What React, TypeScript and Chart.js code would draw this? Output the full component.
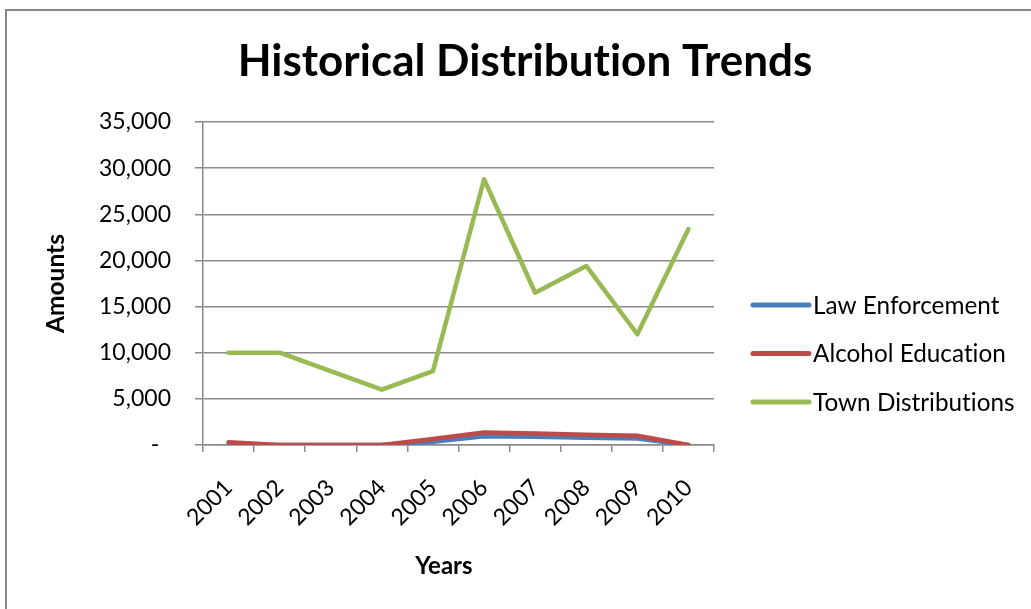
import { useEffect, useRef } from "react";
import { Chart, registerables } from "chart.js";

Chart.register(...registerables);

// Category axis
const years = ["2001", "2002", "2003", "2004", "2005", "2006", "2007", "2008", "2009", "2010"];

// Series values (amounts per year)
const lawEnforcement = [0, 0, 0, 0, 350, 950, 900, 780, 700, 0];
const alcoholEducation = [300, 0, 0, 0, 650, 1350, 1250, 1100, 1000, 0];
const townDistributions = [10000, 10000, 8000, 6000, 8000, 28800, 16500, 19400, 12000, 23400];

const seriesNames = ["Law Enforcement", "Alcohol Education", "Town Distributions"];
const seriesColors = ["#4A7EBB", "#BE4B48", "#98B954"];

// Value axis range
const yMin = 0;
const yMax = 35000;
const yStep = 5000;

const FONT = "Lato, 'Open Sans', sans-serif";
const AXIS_GRAY = "#8a8a8a";

// White background, outer frame, and plain (ligature-free) text rendering
const framePlugin = {
  id: "frame",
  afterLayout(chart: any) {
    // centre the title across the whole frame rather than the padded box
    const tb = chart.titleBlock;
    if (tb) {
      tb.left = 19;
      tb.right = chart.width;
      tb.width = tb.right - tb.left;
    }
  },
  beforeDraw(chart: any) {
    const { ctx, width, height } = chart;
    ctx.save();
    ctx.fillStyle = "#ffffff";
    ctx.fillRect(0, 0, width, height);
    ctx.strokeStyle = "#868686";
    ctx.lineWidth = 2;
    ctx.strokeRect(6, 10, width + 40, height + 40);
    ctx.restore();
    ctx.textRendering = "optimizeSpeed";
    ctx.letterSpacing = "0.01px";
  },
};

// Legend on the right: line swatch followed by the series name
const sideLegendPlugin = {
  id: "sideLegend",
  afterDraw(chart: any) {
    const { ctx, chartArea } = chart;
    const x0 = chartArea.right + 39;
    const y0 = chartArea.top + 183;
    const gap = 48.5;
    ctx.save();
    ctx.font = `24.3px ${FONT}`;
    ctx.textBaseline = "middle";
    ctx.textAlign = "left";
    chart.data.datasets.forEach((ds: any, i: number) => {
      const y = y0 + i * gap;
      ctx.strokeStyle = ds.borderColor;
      ctx.lineWidth = 5;
      ctx.lineCap = "round";
      ctx.beginPath();
      ctx.moveTo(x0, y);
      ctx.lineTo(x0 + 56, y);
      ctx.stroke();
      ctx.fillStyle = "#000";
      ctx.fillText(ds.label, x0 + 60, y + 1);
    });
    ctx.restore();
  },
};

export default function App() {
  const canvasRef = useRef<HTMLCanvasElement | null>(null);

  useEffect(() => {
    if (!canvasRef.current) return;
    const seriesData = [lawEnforcement, alcoholEducation, townDistributions];
    const chart = new Chart(canvasRef.current, {
      type: "line",
      data: {
        labels: years,
        datasets: seriesData.map((values, i) => ({
          label: seriesNames[i],
          data: values,
          borderColor: seriesColors[i],
          backgroundColor: seriesColors[i],
          borderWidth: 4.5,
          borderJoinStyle: "round",
          borderCapStyle: "round",
          pointRadius: 0,
          tension: 0,
          fill: false,
          order: 3 - i,
        })),
      },
      options: {
        responsive: false,
        animation: false,
        devicePixelRatio: 1,
        layout: { padding: { left: 19, right: 317, top: 0, bottom: 0 } },
        plugins: {
          legend: { display: false },
          tooltip: { enabled: false },
          title: {
            display: true,
            text: "Historical Distribution Trends",
            color: "#000",
            font: { family: FONT, size: 44, weight: "bold" },
            padding: { top: 35, bottom: 34.2 },
          },
        },
        scales: {
          x: {
            type: "category",
            offset: true,
            grid: {
              display: true,
              offset: true,
              drawOnChartArea: false,
              drawTicks: true,
              tickLength: 7,
              color: AXIS_GRAY,
              lineWidth: 1.5,
            },
            border: { display: true, color: AXIS_GRAY, width: 1.5 },
            ticks: {
              minRotation: 45,
              maxRotation: 45,
              autoSkip: false,
              padding: 22,
              color: "#000",
              font: { family: FONT, size: 23 },
            },
            title: {
              display: true,
              text: "Years     ",
              color: "#000",
              font: { family: FONT, size: 24, weight: "bold" },
              padding: { top: 0, bottom: 28 },
            },
            afterFit: (scale: any) => {
              scale.height = 164;
            },
          },
          y: {
            min: yMin,
            max: yMax,
            grid: {
              color: AXIS_GRAY,
              lineWidth: 1.5,
              tickLength: 8,
            },
            border: { display: true, color: AXIS_GRAY, width: 1.5 },
            ticks: {
              stepSize: yStep,
              padding: 24,
              color: "#000",
              font: { family: FONT, size: 23 },
              callback: (v: any) => (Number(v) === 0 ? "-  " : Number(v).toLocaleString("en-US")),
            },
            title: {
              display: true,
              text: "Amounts",
              color: "#000",
              font: { family: FONT, size: 24.5, weight: "bold" },
              padding: { top: 22, bottom: 0 },
            },
            afterFit: (scale: any) => {
              scale.width = 184;
            },
          },
        },
      },
      plugins: [framePlugin, sideLegendPlugin],
    });
    return () => chart.destroy();
  }, []);

  return (
    <div style={{ position: "fixed", left: 0, top: 0, width: 1031, height: 609, background: "#fff" }}>
      <canvas ref={canvasRef} width={1031} height={609} style={{ display: "block" }} />
    </div>
  );
}
